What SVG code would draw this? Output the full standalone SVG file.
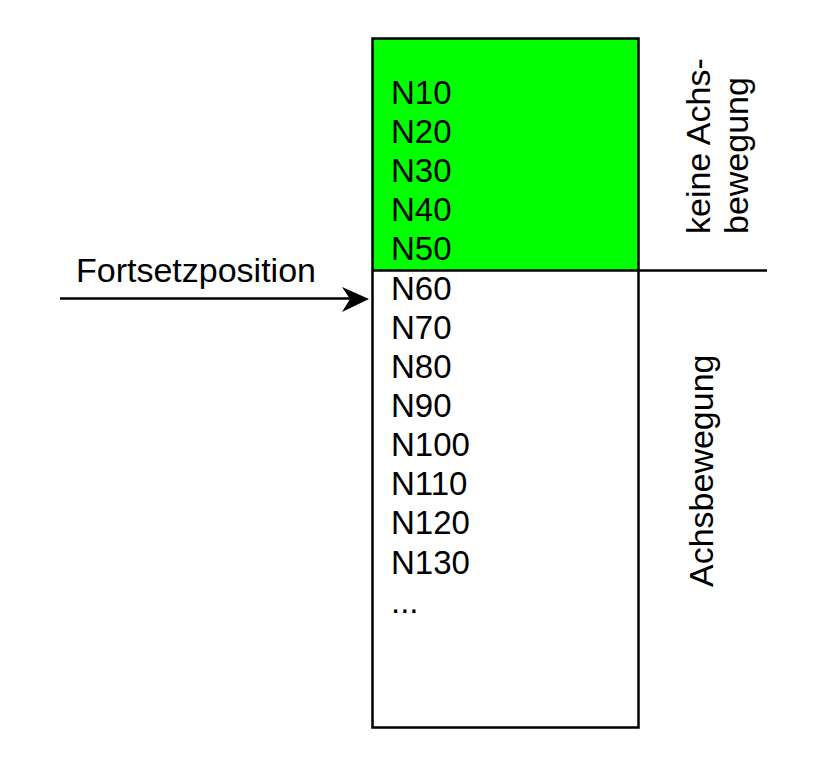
<svg xmlns="http://www.w3.org/2000/svg" width="815" height="758" viewBox="0 0 815 758">
<style>
text{font-family:"Liberation Sans",Arial,sans-serif;font-size:33px;fill:#000}
.lbl{font-size:34px}
.ln{stroke:#000;stroke-width:2.5;fill:none}
</style>
<rect width="815" height="758" fill="#fff"/>
<g id="block">
<rect x="372.5" y="38.5" width="266" height="232" fill="#00ff00"/>
<rect x="372.5" y="38.5" width="266" height="689" class="ln"/>
<line x1="372.5" y1="270.5" x2="767" y2="270.5" class="ln"/>
</g>
<g id="lines">
<text x="391" y="104">N10</text>
<text x="391" y="143">N20</text>
<text x="391" y="182">N30</text>
<text x="391" y="221">N40</text>
<text x="391" y="260">N50</text>
<text x="391" y="300">N60</text>
<text x="391" y="339">N70</text>
<text x="391" y="378">N80</text>
<text x="391" y="417">N90</text>
<text x="391" y="456">N100</text>
<text x="391" y="495">N110</text>
<text x="391" y="534">N120</text>
<text x="391" y="574">N130</text>
<text x="391" y="613">...</text>
</g>
<g id="label-keine">
<text class="lbl" transform="translate(710,234) rotate(-90)">keine Achs-</text>
<text class="lbl" transform="translate(748,234) rotate(-90)">bewegung</text>
</g>
<g id="label-achs">
<text class="lbl" transform="translate(713,587) rotate(-90)">Achsbewegung</text>
</g>
<g id="label-fortsetz">
<text class="lbl" x="76" y="282">Fortsetzposition</text>
</g>
<g id="connectors">
<line x1="60" y1="298.5" x2="360" y2="298.5" class="ln"/>
<path d="M369,299 L342,287 L350,299 L342,312 Z" fill="#000"/>
</g>
</svg>
